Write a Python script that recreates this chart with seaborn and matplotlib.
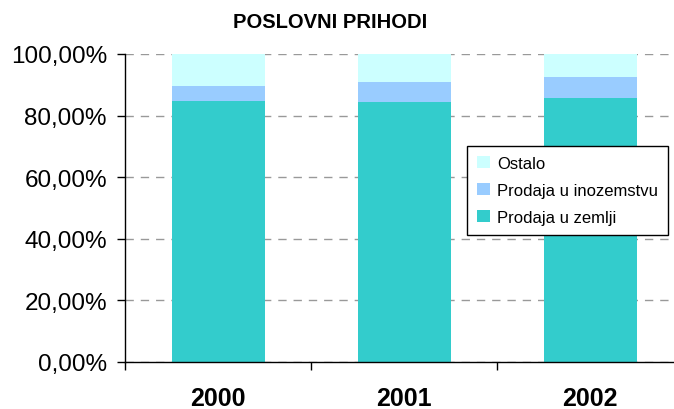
import matplotlib
matplotlib.use("Agg")
import matplotlib.pyplot as plt
import seaborn as sns
import pandas as pd
from matplotlib.patches import Patch
from matplotlib.ticker import FuncFormatter, MultipleLocator

years = ["2000", "2001", "2002"]
prodaja_zemlja = [84.7, 84.4, 85.7]
prodaja_inozemstvo = [4.9, 6.5, 6.8]
ostalo = [10.4, 9.1, 7.5]
series_names = ["Prodaja u zemlji", "Prodaja u inozemstvu", "Ostalo"]
colors = ["#33CCCC", "#99CCFF", "#CCFFFF"]

sns.set_theme(style="white")
plt.rcParams["font.family"] = ["Liberation Sans", "DejaVu Sans"]
plt.rcParams["text.color"] = "black"
plt.rcParams["xtick.color"] = "black"
plt.rcParams["ytick.color"] = "black"

fig = plt.figure(figsize=(6.74, 4.10), dpi=100)
ax = fig.add_axes([125 / 674, 47 / 410, 558 / 674, 308 / 410])

df = pd.DataFrame({"year": years, "z": prodaja_zemlja, "i": prodaja_inozemstvo, "o": ostalo})
df["c1"] = df["z"]
df["c2"] = df["z"] + df["i"]
df["c3"] = df["z"] + df["i"] + df["o"]

for col, c in zip(["c3", "c2", "c1"], colors[::-1]):
    sns.barplot(data=df, x="year", y=col, color=c, width=0.5, order=years,
                saturation=1, ax=ax, linewidth=0, zorder=2)

ax.set_xlim(-0.5, 2.5)
ax.set_ylim(0, 100)
ax.yaxis.set_major_locator(MultipleLocator(20))
ax.yaxis.set_major_formatter(FuncFormatter(lambda v, p: f"{v:.2f}".replace(".", ",") + "%"))
ax.grid(axis="y", color="#999999", linestyle=(0, (6, 5)), linewidth=1, zorder=0)
ax.grid(axis="x", visible=False)
ax.set_axisbelow(True)

for s in ["top", "right"]:
    ax.spines[s].set_visible(False)
for s in ["left", "bottom"]:
    ax.spines[s].set_color("black")
    ax.spines[s].set_linewidth(1)

ax.set_xlabel("")
ax.set_ylabel("")
ax.set_xticks([0, 1, 2])
ax.set_xticklabels(years, fontsize=18, fontweight="bold")
ax.set_xticks([-0.5, 0.5, 1.5], minor=True)
ax.tick_params(axis="x", which="major", length=0, pad=17, labelcolor="black")
ax.tick_params(axis="x", which="minor", length=6, width=1, color="black", direction="out", bottom=True)
ax.tick_params(axis="y", length=6, width=1, color="black", direction="out", labelsize=17.5,
               left=True, pad=7, labelcolor="black")

fig.text(330 / 674, 1 - 22 / 410, "POSLOVNI PRIHODI", ha="center", va="center",
         fontsize=14.5, fontweight="bold", color="black")

handles = [Patch(facecolor=colors[2], edgecolor="none", label=series_names[2]),
           Patch(facecolor=colors[1], edgecolor="none", label=series_names[1]),
           Patch(facecolor=colors[0], edgecolor="none", label=series_names[0])]
leg = ax.legend(handles=handles, loc="upper left", bbox_to_anchor=(467 / 674, 1 - 147 / 410),
                bbox_transform=fig.transFigure, borderaxespad=0, frameon=True, fancybox=False,
                fontsize=12, handlelength=0.75, handleheight=0.75, handletextpad=0.45,
                labelspacing=0.72, borderpad=0.6, framealpha=1)
leg.get_frame().set_edgecolor("black")
leg.get_frame().set_linewidth(1)
for t in leg.get_texts():
    t.set_color("black")

fig.savefig("out.png", dpi=100)
